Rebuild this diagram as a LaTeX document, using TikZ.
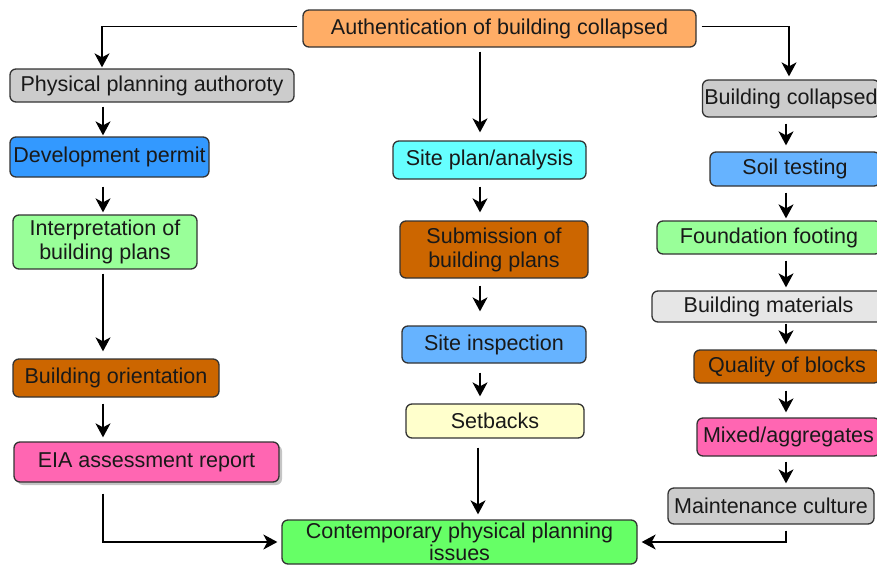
\documentclass[tikz,border=0pt]{standalone}
\usepackage{fontspec}
\setmainfont{Liberation Sans}
\usetikzlibrary{arrows.meta,shadows}

\definecolor{cOrange}{HTML}{FFAD66}
\definecolor{cGray}{HTML}{CCCCCC}
\definecolor{cLightGray}{HTML}{E6E6E6}
\definecolor{cBlue}{HTML}{3399FF}
\definecolor{cSky}{HTML}{66B3FF}
\definecolor{cCyan}{HTML}{66FFFF}
\definecolor{cMint}{HTML}{99FF99}
\definecolor{cGreen}{HTML}{66FF66}
\definecolor{cBrown}{HTML}{CC6600}
\definecolor{cPink}{HTML}{FF66B2}
\definecolor{cCream}{HTML}{FFFFCC}

\begin{document}
\begin{tikzpicture}[x=1pt, y=-1pt, box/.style={draw=black!80, line width=1.3pt, rounded corners=6pt, inner sep=0pt, align=center, text=black!90, font=\fontsize{21.5}{24}\selectfont}, n/.style={-{Stealth[length=14pt, width=15pt, inset=4pt]}, line width=1.2pt, shorten <=5pt, shorten >=4pt}]
            \useasboundingbox (0,0) rectangle (877,565);
            \clip (0,0) rectangle (877,565);
            % column lines
            \coordinate (colL) at (103,0);
            \coordinate (colM) at (480,0);
            \coordinate (colR) at (786,0);
            % nodes
            \node[box, fill=cOrange, minimum width=393pt, minimum height=37pt] (auth) at (499.5,28.5) {Authentication of building collapsed};
            \node[box, fill=cGray, minimum width=284pt, minimum height=33pt] (phys) at (152,85.5) {Physical planning authoroty};
            \node[box, fill=cBlue, minimum width=199pt, minimum height=40pt] (dev) at (109.5,157) {Development permit};
            \node[box, fill=cMint, minimum width=184pt, minimum height=54pt] (interp) at (105,242) {Interpretation of\\building plans};
            \node[box, fill=cBrown, minimum width=206pt, minimum height=38pt] (orient) at (116,378) {Building orientation};
            \node[box, fill=cPink, minimum width=265pt, minimum height=40pt, drop shadow={shadow xshift=3pt, shadow yshift=-3pt, fill=black!45, opacity=0.5}] (eia) at (146.5,462) {EIA assessment report};
            \node[box, fill=cCyan, minimum width=193pt, minimum height=38pt] (site) at (489.5,160) {Site plan/analysis};
            \node[box, fill=cBrown, minimum width=188pt, minimum height=57pt] (sub) at (494,249.5) {Submission of\\building plans};
            \node[box, fill=cSky, minimum width=184pt, minimum height=37pt] (insp) at (494,344.5) {Site inspection};
            \node[box, fill=cCream, minimum width=178pt, minimum height=34pt] (setb) at (495,421) {Setbacks};
            \node[box, fill=cGreen, minimum width=355pt, minimum height=44pt, font=\fontsize{21.5}{22}\selectfont] (cont) at (459.5,542) {Contemporary physical planning\\issues};
            \node[box, fill=cGray, minimum width=177pt, minimum height=37pt] (coll) at (791,98.5) {Building collapsed};
            \node[box, fill=cSky, minimum width=170pt, minimum height=34pt] (soil) at (795,169) {Soil testing};
            \node[box, fill=cMint, minimum width=224pt, minimum height=33pt] (found) at (769,237.5) {Foundation footing};
            \node[box, fill=cLightGray, minimum width=233pt, minimum height=31pt] (mat) at (768.5,306.5) {Building materials};
            \node[box, fill=cBrown, minimum width=186pt, minimum height=33pt] (qual) at (787,366.5) {Quality of blocks};
            \node[box, fill=cPink, minimum width=183pt, minimum height=38pt] (mix) at (788.5,437) {Mixed/aggregates};
            \node[box, fill=cGray, minimum width=206pt, minimum height=36pt] (maint) at (771,506) {Maintenance culture};
            % edges
            \draw [n, shorten >=1pt] ([yshift=2pt]auth.west) -| ([xshift=-50pt]phys.north);
            \draw [n, shorten <=4pt, shorten >=8pt] ([xshift=-19.5pt]auth.south) -- (site.north -| colM);
            \draw [n, shorten >=3pt] ([yshift=2pt]auth.east) -| ([xshift=-2pt]coll.north);
            \draw [n, shorten <=4pt, shorten >=1pt] (phys.south -| colL) -- (dev.north -| colL);
            \draw [n, shorten <=9pt, shorten >=2pt] (dev.south -| colL) -- (interp.north -| colL);
            \draw [n, shorten <=4pt, shorten >=7pt] (interp.south -| colL) -- (orient.north -| colL);
            \draw [n, shorten <=6pt] (orient.south -| colL) -- (eia.north -| colL);
            \draw [n, shorten <=11pt] (eia.south -| colL) |- (cont.west);
            \draw [n, shorten <=7pt, shorten >=8pt] (site.south -| colM) -- (sub.north -| colM);
            \draw [n, shorten <=7pt, shorten >=14pt] (sub.south -| colM) -- (insp.north -| colM);
            \draw [n, shorten <=9pt, shorten >=7pt] (insp.south -| colM) -- (setb.north -| colM);
            \draw [n, shorten <=9pt, shorten >=5pt] ([xshift=-17pt]setb.south) -- ([xshift=18.5pt]cont.north);
            \draw [n, shorten <=6pt, shorten >=6pt] (coll.south -| colR) -- (soil.north -| colR);
            \draw [n, shorten <=6pt, shorten >=2pt] (soil.south -| colR) -- (found.north -| colR);
            \draw [n, shorten <=6pt, shorten >=3pt] (found.south -| colR) -- (mat.north -| colR);
            \draw [n, shorten <=1pt, shorten >=5pt] (mat.south -| colR) -- (qual.north -| colR);
            \draw [n, shorten <=7pt, shorten >=5pt] (qual.south -| colR) -- (mix.north -| colR);
            \draw [n] (mix.south -| colR) -- (maint.north -| colR);
            \draw [n, shorten <=6pt] (maint.south -| colR) |- (cont.east);
        \end{tikzpicture}
\end{document}
